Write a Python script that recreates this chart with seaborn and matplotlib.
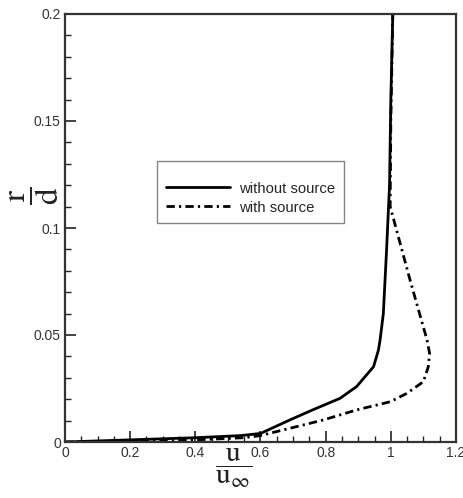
import matplotlib
matplotlib.use("Agg")
import matplotlib.pyplot as plt
from matplotlib.ticker import MultipleLocator, FuncFormatter
import seaborn as sns
import pandas as pd

# Data: velocity ratio u/u_inf vs radial position r/d
r_without = [0, 0.001, 0.002, 0.003, 0.004, 0.0103, 0.015, 0.0204, 0.0259, 0.0352,
             0.043, 0.0477, 0.06, 0.09, 0.12, 0.16, 0.2]
u_without = [0, 0.2, 0.4, 0.54, 0.6, 0.69, 0.76, 0.844, 0.895, 0.947,
             0.962, 0.967, 0.977, 0.987, 0.996, 1.0, 1.006]
r_with = [0, 0.0005, 0.001, 0.002, 0.003, 0.0064, 0.0103, 0.015, 0.0188, 0.0227,
          0.0282, 0.0352, 0.0414, 0.0477, 0.0757, 0.11, 0.15, 0.2]
u_with = [0, 0.3, 0.4, 0.55, 0.6, 0.69, 0.793, 0.895, 0.998, 1.049,
          1.10, 1.115, 1.119, 1.111, 1.059, 0.998, 1.0, 1.006]
labels = ["without source", "with source"]
xticks = [0, 0.2, 0.4, 0.6, 0.8, 1, 1.2]
yticks = [0, 0.05, 0.1, 0.15, 0.2]

sns.set_style("ticks")
plt.rcParams['font.family'] = ['Liberation Sans', 'DejaVu Sans']
plt.rcParams['mathtext.fontset'] = 'stix'

fig = plt.figure(figsize=(4.64, 4.98), dpi=100)
ax = fig.add_axes([65/464, 56/498, (456-65)/464, (442-14)/498])

df1 = pd.DataFrame({"u": u_without, "r": r_without})
df2 = pd.DataFrame({"u": u_with, "r": r_with})
sns.lineplot(data=df1, x="u", y="r", sort=False, estimator=None, ax=ax,
             color="black", lw=2.0, label=labels[0])
sns.lineplot(data=df2, x="u", y="r", sort=False, estimator=None, ax=ax,
             color="black", lw=2.0, linestyle=(0, (3, 1.5, 0.8, 1.5)), label=labels[1])

ax.set_xlim(0, 1.2)
ax.set_ylim(0, 0.2)
ax.set_xticks(xticks)
ax.set_yticks(yticks)
fmt = FuncFormatter(lambda v, p: ("%g" % round(v, 4)))
ax.xaxis.set_major_formatter(fmt)
ax.yaxis.set_major_formatter(fmt)
ax.xaxis.set_minor_locator(MultipleLocator(0.05))
ax.yaxis.set_minor_locator(MultipleLocator(0.01))
ax.tick_params(which='major', direction='in', length=8, width=1.2, labelsize=10,
               colors='#222222', labelcolor='#333333', pad=3)
ax.tick_params(which='minor', direction='in', length=4, width=1.0, colors='#222222')
for s in ax.spines.values():
    s.set_linewidth(1.6)
    s.set_color('#333333')
    s.set_visible(True)

ax.set_xlabel(r"$\dfrac{\mathrm{u}}{\mathrm{u}_{\infty}}$", fontsize=21, color='#222222')
ax.xaxis.set_label_coords(0.43, -0.012)
ax.set_ylabel(r"$\dfrac{\mathrm{r}}{\mathrm{d}}$", fontsize=24, color='#222222', rotation=90)
ax.yaxis.set_label_coords(-0.01, 0.575)

leg = ax.legend(loc='upper left', bbox_to_anchor=(0.235, 0.657), fontsize=10.7,
                frameon=True, fancybox=False, handlelength=4.3, borderpad=0.6,
                labelspacing=0.33, handletextpad=0.6, borderaxespad=0,
                title=" ", title_fontsize=6)
leg.get_frame().set_edgecolor('#666666')
leg.get_frame().set_linewidth(1.0)

fig.savefig("out.png", dpi=100)
